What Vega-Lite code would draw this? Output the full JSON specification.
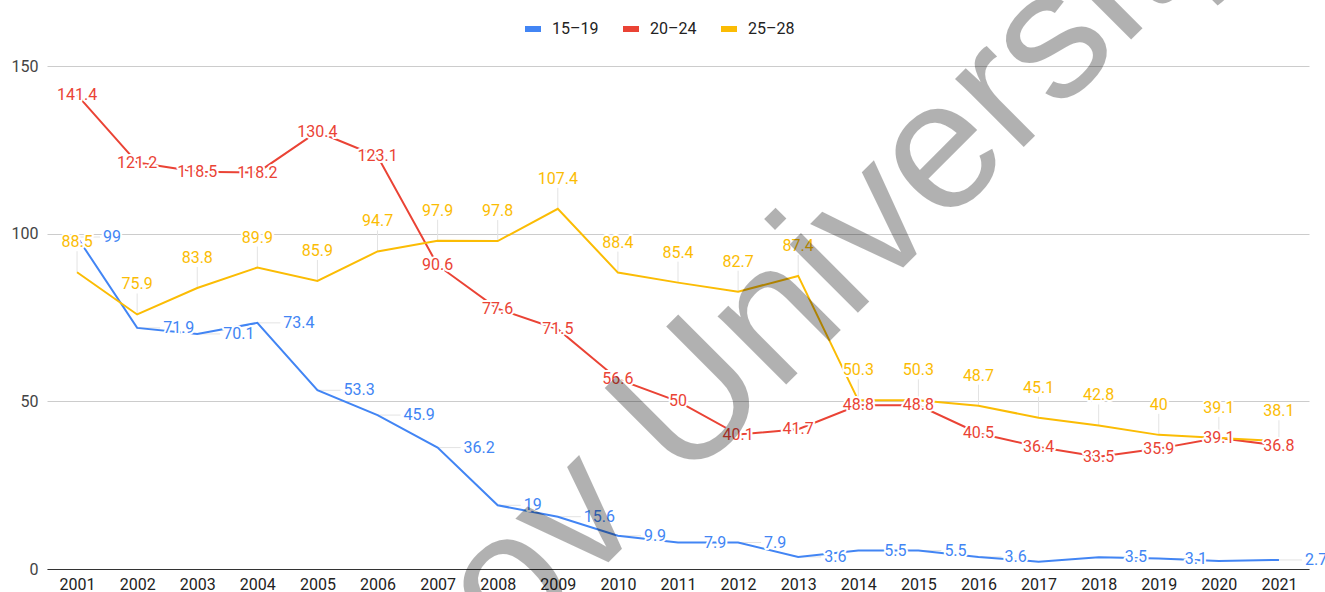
{
  "$schema": "https://vega.github.io/schema/vega-lite/v6.json",
  "width": 1262,
  "height": 503,
  "autosize": {"type": "none"},
  "padding": {"left": 47, "top": 66, "right": 16, "bottom": 23},
  "background": "white",
  "config": {"view": {"stroke": null}, "font": "Roboto"},
  "datasets": {
    "rates": [
      {"year": 2001, "series": "15–19", "value": 99},
      {"year": 2002, "series": "15–19", "value": 71.9},
      {"year": 2003, "series": "15–19", "value": 70.1},
      {"year": 2004, "series": "15–19", "value": 73.4},
      {"year": 2005, "series": "15–19", "value": 53.3},
      {"year": 2006, "series": "15–19", "value": 45.9},
      {"year": 2007, "series": "15–19", "value": 36.2},
      {"year": 2008, "series": "15–19", "value": 19},
      {"year": 2009, "series": "15–19", "value": 15.6},
      {"year": 2010, "series": "15–19", "value": 9.9},
      {"year": 2011, "series": "15–19", "value": 7.9},
      {"year": 2012, "series": "15–19", "value": 7.9},
      {"year": 2013, "series": "15–19", "value": 3.6},
      {"year": 2014, "series": "15–19", "value": 5.5},
      {"year": 2015, "series": "15–19", "value": 5.5},
      {"year": 2016, "series": "15–19", "value": 3.6},
      {"year": 2017, "series": "15–19", "value": 2.2},
      {"year": 2018, "series": "15–19", "value": 3.5},
      {"year": 2019, "series": "15–19", "value": 3.1},
      {"year": 2020, "series": "15–19", "value": 2.4},
      {"year": 2021, "series": "15–19", "value": 2.7},
      {"year": 2001, "series": "20–24", "value": 141.4},
      {"year": 2002, "series": "20–24", "value": 121.2},
      {"year": 2003, "series": "20–24", "value": 118.5},
      {"year": 2004, "series": "20–24", "value": 118.2},
      {"year": 2005, "series": "20–24", "value": 130.4},
      {"year": 2006, "series": "20–24", "value": 123.1},
      {"year": 2007, "series": "20–24", "value": 90.6},
      {"year": 2008, "series": "20–24", "value": 77.6},
      {"year": 2009, "series": "20–24", "value": 71.5},
      {"year": 2010, "series": "20–24", "value": 56.6},
      {"year": 2011, "series": "20–24", "value": 50},
      {"year": 2012, "series": "20–24", "value": 40.1},
      {"year": 2013, "series": "20–24", "value": 41.7},
      {"year": 2014, "series": "20–24", "value": 48.8},
      {"year": 2015, "series": "20–24", "value": 48.8},
      {"year": 2016, "series": "20–24", "value": 40.5},
      {"year": 2017, "series": "20–24", "value": 36.4},
      {"year": 2018, "series": "20–24", "value": 33.5},
      {"year": 2019, "series": "20–24", "value": 35.9},
      {"year": 2020, "series": "20–24", "value": 39.1},
      {"year": 2021, "series": "20–24", "value": 36.8},
      {"year": 2001, "series": "25–28", "value": 88.5},
      {"year": 2002, "series": "25–28", "value": 75.9},
      {"year": 2003, "series": "25–28", "value": 83.8},
      {"year": 2004, "series": "25–28", "value": 89.9},
      {"year": 2005, "series": "25–28", "value": 85.9},
      {"year": 2006, "series": "25–28", "value": 94.7},
      {"year": 2007, "series": "25–28", "value": 97.9},
      {"year": 2008, "series": "25–28", "value": 97.8},
      {"year": 2009, "series": "25–28", "value": 107.4},
      {"year": 2010, "series": "25–28", "value": 88.4},
      {"year": 2011, "series": "25–28", "value": 85.4},
      {"year": 2012, "series": "25–28", "value": 82.7},
      {"year": 2013, "series": "25–28", "value": 87.4},
      {"year": 2014, "series": "25–28", "value": 50.3},
      {"year": 2015, "series": "25–28", "value": 50.3},
      {"year": 2016, "series": "25–28", "value": 48.7},
      {"year": 2017, "series": "25–28", "value": 45.1},
      {"year": 2018, "series": "25–28", "value": 42.8},
      {"year": 2019, "series": "25–28", "value": 40},
      {"year": 2020, "series": "25–28", "value": 39.1},
      {"year": 2021, "series": "25–28", "value": 38.1}
    ],
    "mark": [
      {"text": "Kharkov University", "x": 2002.6, "y": -127.8}
    ]
  },
  "data": {"name": "rates"},
  "encoding": {
    "x": {
      "field": "year",
      "type": "quantitative",
      "scale": {"domain": [2000.5, 2021.5], "nice": false, "zero": false},
      "axis": {
        "values": [2001, 2002, 2003, 2004, 2005, 2006, 2007, 2008, 2009, 2010, 2011, 2012, 2013, 2014, 2015, 2016, 2017, 2018, 2019, 2020, 2021],
        "format": "d",
        "title": null,
        "grid": false,
        "ticks": false,
        "labelPadding": 7,
        "labelFontSize": 16,
        "labelColor": "#222222",
        "labelFont": "Roboto",
        "domainColor": "#333333",
        "domainWidth": 1,
        "labelFlush": false
      }
    },
    "y": {
      "field": "value",
      "type": "quantitative",
      "scale": {"domain": [0, 150], "nice": false},
      "axis": {
        "values": [0, 50, 100, 150],
        "title": null,
        "ticks": false,
        "domain": false,
        "labelPadding": 9,
        "gridColor": "#cccccc",
        "labelFontSize": 16,
        "labelColor": "#444444",
        "labelFont": "Roboto"
      }
    }
  },
  "layer": [
    {
      "transform": [{"filter": "datum.series === '25–28'"}],
      "mark": {"type": "rule", "color": "#e3e3e3", "strokeWidth": 1, "y2Offset": -21},
      "encoding": {"y2": {"field": "value"}}
    },
    {
      "transform": [{"filter": "datum.series === '15–19' && datum.year !== 2017 && datum.year !== 2020"}],
      "mark": {"type": "rule", "color": "#e3e3e3", "strokeWidth": 1, "x2Offset": 23},
      "encoding": {"x2": {"field": "year"}}
    },
    {
      "mark": {"type": "line", "strokeWidth": 2},
      "encoding": {
        "color": {
          "field": "series",
          "type": "nominal",
          "scale": {"domain": ["15–19", "20–24", "25–28"], "range": ["#4285F4", "#EA4335", "#FBBC04"]},
          "legend": {
            "orient": "none",
            "legendX": 475,
            "legendY": -48,
            "direction": "horizontal",
            "title": null,
            "symbolType": "stroke",
            "symbolStrokeWidth": 6,
            "symbolSize": 256,
            "labelFontSize": 16,
            "labelColor": "#222222",
            "labelFont": "Roboto",
            "labelOffset": 8,
            "columnPadding": 12
          }
        }
      }
    },
    {
      "transform": [{"filter": "datum.series === '25–28'"}],
      "mark": {"type": "text", "align": "center", "baseline": "alphabetic", "dy": -25, "fontSize": 16, "stroke": "white", "strokeWidth": 4, "fill": "white", "strokeJoin": "round"},
      "encoding": {"text": {"field": "value", "type": "nominal"}}
    },
    {
      "transform": [{"filter": "datum.series === '25–28'"}],
      "mark": {"type": "text", "align": "center", "baseline": "alphabetic", "dy": -25, "fontSize": 16, "fill": "#FBBC04"},
      "encoding": {"text": {"field": "value", "type": "nominal"}}
    },
    {
      "transform": [{"filter": "datum.series === '15–19' && datum.year !== 2017 && datum.year !== 2020"}],
      "mark": {"type": "text", "align": "left", "baseline": "middle", "dx": 26, "fontSize": 16, "stroke": "white", "strokeWidth": 4, "fill": "white", "strokeJoin": "round"},
      "encoding": {"text": {"field": "value", "type": "nominal"}}
    },
    {
      "transform": [{"filter": "datum.series === '15–19' && datum.year !== 2017 && datum.year !== 2020"}],
      "mark": {"type": "text", "align": "left", "baseline": "middle", "dx": 26, "fontSize": 16, "fill": "#4285F4"},
      "encoding": {"text": {"field": "value", "type": "nominal"}}
    },
    {
      "transform": [{"filter": "datum.series === '20–24'"}],
      "mark": {"type": "text", "align": "center", "baseline": "middle", "fontSize": 16, "stroke": "white", "strokeWidth": 4, "fill": "white", "strokeJoin": "round"},
      "encoding": {"text": {"field": "value", "type": "nominal"}}
    },
    {
      "transform": [{"filter": "datum.series === '20–24'"}],
      "mark": {"type": "text", "align": "center", "baseline": "middle", "fontSize": 16, "fill": "#EA4335"},
      "encoding": {"text": {"field": "value", "type": "nominal"}}
    },
    {
      "data": {"name": "mark"},
      "mark": {"type": "text", "align": "left", "baseline": "alphabetic", "angle": -45, "font": "Liberation Sans", "fontSize": 183, "fill": "black", "opacity": 0.3},
      "encoding": {
        "x": {"field": "x", "type": "quantitative"},
        "y": {"field": "y", "type": "quantitative"},
        "text": {"field": "text"}
      }
    }
  ]
}
